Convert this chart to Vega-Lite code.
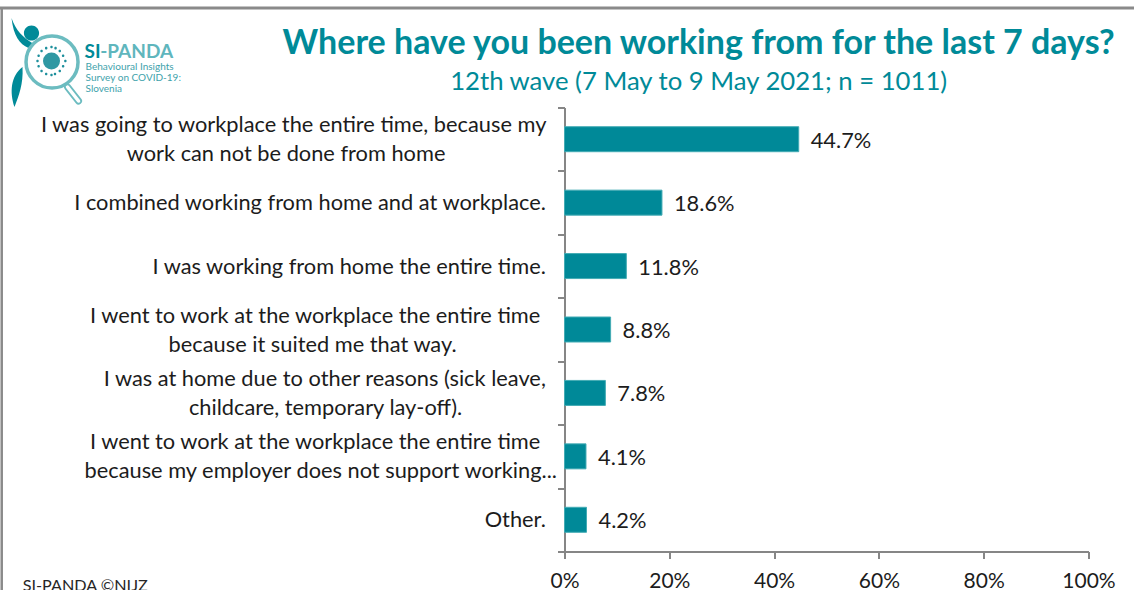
{
  "$schema": "https://vega.github.io/schema/vega-lite/v6.json",
  "width": 524,
  "height": 444,
  "autosize": "none",
  "padding": {"left": 564.5, "top": 107.5, "right": 45.5, "bottom": 38.5},
  "background": "white",
  "config": {"view": {"stroke": null}, "font": "Lato"},
  "datasets": {
    "answers": [
      {"label": "I was going to workplace the entire time, because my\u00a0\u00a0\u200b|\u00a0\u200b|work can not be done from home\u00a0\u00a0\u00a0\u00a0\u00a0\u00a0\u00a0\u00a0\u00a0\u00a0\u00a0\u00a0\u00a0\u00a0\u00a0\u00a0\u00a0\u00a0\u00a0\u00a0\u200b", "share": 44.7},
      {"label": "\u00a0\u200b|I combined working from home and at workplace.\u00a0\u00a0\u200b|\u00a0\u200b", "share": 18.6},
      {"label": "\u00a0\u200b|I was working from home the entire time.\u00a0\u00a0\u200b|\u00a0\u200b", "share": 11.8},
      {"label": "I went to work at the workplace the entire time\u00a0\u00a0\u00a0\u200b|\u00a0\u200b|because it suited me that way.\u00a0\u00a0\u00a0\u00a0\u00a0\u00a0\u00a0\u00a0\u00a0\u00a0\u00a0\u00a0\u00a0\u00a0\u00a0\u00a0\u00a0\u00a0\u200b", "share": 8.8},
      {"label": "I was at home due to other reasons (sick leave,\u00a0\u00a0\u200b|\u00a0\u200b|childcare, temporary lay-off).\u00a0\u00a0\u00a0\u00a0\u00a0\u00a0\u00a0\u00a0\u00a0\u00a0\u00a0\u00a0\u00a0\u00a0\u00a0\u00a0\u00a0\u200b", "share": 7.8},
      {"label": "I went to work at the workplace the entire time\u00a0\u00a0\u00a0\u200b|\u00a0\u200b|because my employer does not support working...", "share": 4.1},
      {"label": "\u00a0\u200b|Other.\u00a0\u00a0\u200b|\u00a0\u200b", "share": 4.2}
    ]
  },
  "resolve": {"scale": {"y": "independent"}},
  "layer": [
    {
      "data": {"name": "answers"},
      "encoding": {
        "y": {
          "field": "label",
          "type": "nominal",
          "sort": null,
          "title": null,
          "scale": {"paddingInner": 0, "paddingOuter": 0},
          "axis": {
            "domainColor": "#868686",
            "domainWidth": 2,
            "tickColor": "#868686",
            "tickWidth": 2,
            "tickSize": 7,
            "tickBand": "extent",
            "labelFont": "Lato",
            "labelFontSize": 21.8,
            "labelColor": "#1c1c1c",
            "labelLimit": 560,
            "labelPadding": 1,
            "labelLineHeight": 14.5,
            "labelBaseline": "middle",
            "labelOffset": -14.5,
            "labelExpr": "split(datum.label, '|')"
          }
        },
        "x": {
          "field": "share",
          "type": "quantitative",
          "title": null,
          "scale": {"domain": [0, 100], "nice": false},
          "axis": {
            "values": [0, 20, 40, 60, 80, 100],
            "grid": false,
            "domainColor": "#868686",
            "domainWidth": 2,
            "tickColor": "#868686",
            "tickWidth": 2,
            "tickSize": 7,
            "labelFont": "Lato",
            "labelFontSize": 21,
            "labelColor": "#1c1c1c",
            "labelPadding": 12,
            "labelFlush": false,
            "labelOverlap": false,
            "labelExpr": "datum.value + '%'"
          }
        }
      },
      "layer": [
        {"mark": {"type": "bar", "height": 25, "color": "#008998", "stroke": "#43abb4", "strokeWidth": 1}},
        {
          "transform": [{"calculate": "format(datum.share, '.1f') + '%'", "as": "shareText"}],
          "mark": {"type": "text", "align": "left", "baseline": "middle", "dx": 12, "dy": 1.5, "font": "Lato", "fontSize": 21.8, "color": "#1c1c1c"},
          "encoding": {"text": {"field": "shareText", "type": "nominal"}}
        }
      ]
    },
    {
      "encoding": {
        "x": {"field": "x", "type": "quantitative", "title": null, "scale": {"domain": [0, 100], "nice": false}},
        "y": {"field": "y", "type": "quantitative", "scale": {"domain": [0, 100], "reverse": true, "nice": false}, "axis": null}
      },
      "layer": [
        {
          "description": "Heading and wave line",
          "data": {"values": [{"x": 25.6, "y": -12.05, "t": "Where have you been working from for the last 7 days?"}]},
          "mark": {"type": "text", "align": "center", "baseline": "alphabetic", "font": "Lato", "fontSize": 34, "fontWeight": "bold", "color": "#008a98"},
          "encoding": {"text": {"field": "t"}}
        },
        {
          "data": {"values": [{"x": 25.6, "y": -3.94, "t": "12th wave (7 May to 9 May 2021; n = 1011)"}]},
          "mark": {"type": "text", "align": "center", "baseline": "alphabetic", "font": "Lato", "fontSize": 25.7, "color": "#008a98"},
          "encoding": {"text": {"field": "t"}}
        },
        {
          "description": "Outer frame of the slide",
          "data": {"values": [{"x": -107.8, "x2": 108.8, "y": -22.4}]},
          "mark": {"type": "rule", "color": "#8a8a8a", "strokeWidth": 3},
          "encoding": {"x2": {"field": "x2"}}
        },
        {
          "data": {"values": [{"x": -107.4, "y": -22.4, "y2": 108.8}]},
          "mark": {"type": "rule", "color": "#8a8a8a", "strokeWidth": 2.5},
          "encoding": {"y2": {"field": "y2"}}
        },
        {
          "description": "Logo figure: arm, leg and head",
          "data": {"values": [{"x": -97.9, "y": -10.7}]},
          "mark": {
            "type": "point", "filled": true, "opacity": 1, "size": 6400, "color": "#008a98", "strokeWidth": 0,
            "shape": "M-1 -1.05C-.95 -.6 -.8 -.4 -.575 -.3L-.475 -.42C-.7 -.55 -.9 -.75 -1 -1.05ZM-.725 .175C-1.02 .4 -1.05 .8 -.925 1.175C-.82 .9 -.7 .6 -.725 .175ZM-.69 -.675a.19 .19 0 1 0 .38 0a.19 .19 0 1 0 -.38 0Z"
          }
        },
        {
          "description": "Magnifier handle, outline then hollow centre",
          "data": {"values": [{"x": -94.84, "x2": -92.74, "y": -4.62, "y2": -1.46}]},
          "mark": {"type": "rule", "color": "#6cbcc0", "strokeWidth": 7, "strokeCap": "round"},
          "encoding": {"x2": {"field": "x2"}, "y2": {"field": "y2"}}
        },
        {
          "data": {"values": [{"x": -94.84, "x2": -92.74, "y": -4.62, "y2": -1.46}]},
          "mark": {"type": "rule", "color": "white", "strokeWidth": 3.5, "strokeCap": "round"},
          "encoding": {"x2": {"field": "x2"}, "y2": {"field": "y2"}}
        },
        {
          "description": "Magnifier ring",
          "data": {"values": [{"x": -97.8, "y": -10.25}]},
          "mark": {"type": "point", "shape": "circle", "filled": true, "opacity": 1, "size": 2704, "fill": "white", "stroke": "#6cbcc0", "strokeWidth": 3.5}
        },
        {
          "description": "Virus body",
          "data": {"values": [{"x": -97.9, "y": -10.47}]},
          "mark": {"type": "point", "shape": "circle", "filled": true, "opacity": 1, "size": 290, "color": "#2f98a3", "strokeWidth": 0}
        },
        {
          "description": "Virus spikes",
          "data": {"values": [{"x": -97.9, "y": -10.47}]},
          "mark": {
            "type": "point", "filled": true, "opacity": 1, "size": 784, "color": "#1d8f9c", "strokeWidth": 0,
            "shape": "M.9 0a.09 .09 0 1 0 .18 0a.09 .09 0 1 0 -.18 0ZM.74 .38a.09 .09 0 1 0 .18 0a.09 .09 0 1 0 -.18 0ZM.5 .71a.09 .09 0 1 0 .18 0a.09 .09 0 1 0 -.18 0ZM.16 .92a.09 .09 0 1 0 .18 0a.09 .09 0 1 0 -.18 0ZM-.09 1a.09 .09 0 1 0 .18 0a.09 .09 0 1 0 -.18 0ZM-.47 .92a.09 .09 0 1 0 .18 0a.09 .09 0 1 0 -.18 0ZM-.8 .71a.09 .09 0 1 0 .18 0a.09 .09 0 1 0 -.18 0ZM-1.01 .38a.09 .09 0 1 0 .18 0a.09 .09 0 1 0 -.18 0ZM-1.09 0a.09 .09 0 1 0 .18 0a.09 .09 0 1 0 -.18 0ZM-1.01 -.38a.09 .09 0 1 0 .18 0a.09 .09 0 1 0 -.18 0ZM-.8 -.71a.09 .09 0 1 0 .18 0a.09 .09 0 1 0 -.18 0ZM-.47 -.92a.09 .09 0 1 0 .18 0a.09 .09 0 1 0 -.18 0ZM-.09 -1a.09 .09 0 1 0 .18 0a.09 .09 0 1 0 -.18 0ZM.2 -.92a.09 .09 0 1 0 .18 0a.09 .09 0 1 0 -.18 0ZM.5 -.71a.09 .09 0 1 0 .18 0a.09 .09 0 1 0 -.18 0ZM.74 -.38a.09 .09 0 1 0 .18 0a.09 .09 0 1 0 -.18 0Z"
          }
        },
        {
          "description": "Logo lettering, dark part",
          "data": {"values": [{"x": -91.6, "y": -11.26, "t": "SI"}]},
          "mark": {"type": "text", "align": "left", "baseline": "alphabetic", "font": "Lato", "fontSize": 19, "fontWeight": "bold", "color": "#008a98"},
          "encoding": {"text": {"field": "t"}}
        },
        {
          "data": {"values": [{"x": -88.6, "y": -11.26, "t": "-PANDA"}]},
          "mark": {"type": "text", "align": "left", "baseline": "alphabetic", "font": "Lato", "fontSize": 19, "fontWeight": "bold", "color": "#5fb6bd"},
          "encoding": {"text": {"field": "t"}}
        },
        {
          "data": {"values": [
            {"x": -91.4, "y": -8.45, "t": "Behavioural Insights"},
            {"x": -91.4, "y": -5.97, "t": "Survey on COVID-19:"},
            {"x": -91.4, "y": -3.49, "t": "Slovenia"}
          ]},
          "mark": {"type": "text", "align": "left", "baseline": "alphabetic", "font": "Lato", "fontSize": 10, "color": "#3ea2ab"},
          "encoding": {"text": {"field": "t"}}
        },
        {
          "description": "Copyright line at the foot of the slide",
          "data": {"values": [{"x": -103.4, "y": 108.9, "t": "SI-PANDA \u00a9NIJZ"}]},
          "mark": {"type": "text", "align": "left", "baseline": "alphabetic", "font": "Lato", "fontSize": 16.2, "color": "#262626"},
          "encoding": {"text": {"field": "t"}}
        }
      ]
    }
  ]
}
